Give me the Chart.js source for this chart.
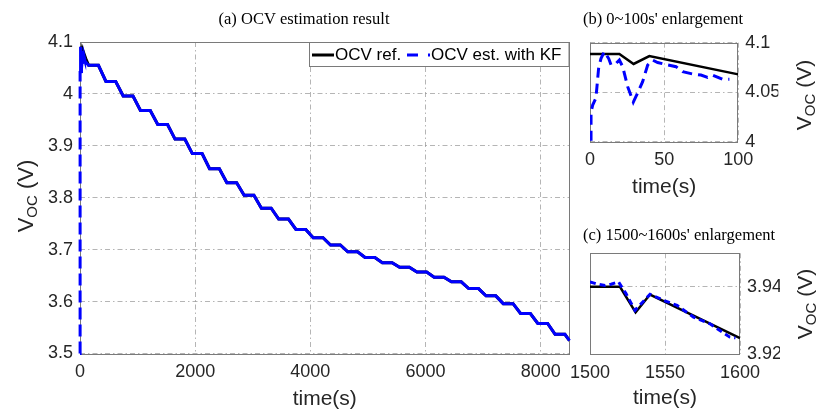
<!DOCTYPE html>
<html>
<head>
<meta charset="utf-8">
<script src="https://cdn.jsdelivr.net/npm/chart.js@4.4.1/dist/chart.umd.min.js"></script>
<style>
  body { margin: 0; background: #fff; }
  #wrap { position: relative; width: 818px; height: 412px; }
  canvas { position: absolute; left: 0; top: 0; }
</style>
</head>
<body>
<div id="wrap">
  <canvas id="main" width="818" height="412"></canvas>
  <canvas id="zoomB" width="818" height="412"></canvas>
  <canvas id="zoomC" width="818" height="412"></canvas>
</div>
<script>
// (b) first 100 s
const refStartT = [0, 19.8, 29.4, 40, 100];
const refStartV = [4.0886, 4.0886, 4.0785, 4.0865, 4.068];
const kfStartT = [0, 0.7, 0.7, 1.8, 4, 5.8, 7.4, 9.7, 12.6, 14.2, 17.5, 19.8, 22, 25.4, 29.2, 32, 35.5, 38.9, 42.2, 45.6, 52.4, 58, 62.5, 69.2, 74.8, 79.3, 82.7, 89.4, 94];
const kfStartV = [3.5, 4.0, 4.03, 4.037, 4.044, 4.074, 4.084, 4.091, 4.084, 4.0775, 4.079, 4.0825, 4.076, 4.0556, 4.04, 4.0488, 4.0606, 4.0775, 4.0825, 4.08, 4.0775, 4.0758, 4.0707, 4.0684, 4.0673, 4.065, 4.0673, 4.063, 4.063];

// whole test: rest plateaus, each ends at a current pulse
const pulseTime = [320, 620, 920, 1220, 1520, 1820, 2120, 2420, 2720, 3020, 3320, 3620, 3920, 4220,
  4520, 4820, 5120, 5420, 5720, 6020, 6320, 6620, 6920, 7220, 7520, 7820, 8120, 8420];
const restVolt = [4.055, 4.024, 3.996, 3.968, 3.941, 3.913, 3.885, 3.856, 3.829, 3.805, 3.78, 3.759, 3.739, 3.723,
  3.709, 3.696, 3.685, 3.675, 3.666, 3.657, 3.647, 3.638, 3.625, 3.611, 3.596, 3.577, 3.558, 3.537];
const endT = 8500, endV = 3.525;

// (c) 1500~1600 s
const refMidT = [1500, 1520, 1530.4, 1540, 1600];
const refMidV = [3.94, 3.94, 3.9324, 3.9377, 3.9247];
const kfMidT = [1500, 1505, 1510, 1514, 1519, 1524, 1530, 1540, 1549, 1558, 1569, 1580, 1593, 1597];
const kfMidV = [3.9415, 3.9408, 3.9404, 3.9408, 3.9415, 3.938, 3.933, 3.9378, 3.936, 3.9345, 3.931, 3.929, 3.9251, 3.9248];

const mainTicksX = [0, 2000, 4000, 6000, 8000];

function pts(t, v) { return t.map((x, i) => ({ x: x, y: v[i] })); }

function stairs(head) {
  const out = head.slice();
  pulseTime.forEach((t, i) => {
    out.push({ x: t - 170, y: restVolt[i] });
    out.push({ x: t, y: restVolt[i] });
  });
  out.push({ x: endT, y: endV });
  return out;
}

const SANS = "'Liberation Sans', Arial, sans-serif";
const SERIF = "'Liberation Serif', 'Times New Roman', serif";
const TXT = '#262626';

function yTitle(ctx, cx, baseX, size) {
  const sub = Math.round(size * 0.7);
  ctx.save();
  ctx.translate(baseX, cx);
  ctx.rotate(-Math.PI / 2);
  ctx.fillStyle = TXT;
  ctx.textBaseline = 'alphabetic';
  ctx.font = size + 'px ' + SANS;
  const wV = ctx.measureText('V').width;
  const wP = ctx.measureText(' (V)').width;
  ctx.font = sub + 'px ' + SANS;
  const wS = ctx.measureText('OC').width;
  let x = -(wV + wS + wP) / 2;
  ctx.font = size + 'px ' + SANS;
  ctx.fillText('V', x, 0); x += wV;
  ctx.font = sub + 'px ' + SANS;
  ctx.fillText('OC', x, size * 0.18); x += wS;
  ctx.font = size + 'px ' + SANS;
  ctx.fillText(' (V)', x, 0);
  ctx.restore();
}

const decor = {
  id: 'decor',
  beforeDatasetsDraw(chart) {
    const a = chart.chartArea, ctx = chart.ctx;
    ctx.save();
    ctx.strokeStyle = '#7a7a7a';
    ctx.lineWidth = 1;
    ctx.strokeRect(Math.round(a.left) + 0.5, Math.round(a.top) + 0.5,
      Math.round(a.right - a.left) - 1, Math.round(a.bottom - a.top));
    ctx.restore();
  },
  afterDraw(chart, args, o) {
    const ctx = chart.ctx, a = chart.chartArea;
    ctx.save();
    ctx.fillStyle = '#000';
    ctx.font = '16.5px ' + SERIF;
    ctx.textBaseline = 'alphabetic';
    ctx.textAlign = o.titleAlign;
    ctx.fillText(o.title, o.titleX, o.titleY);
    ctx.fillStyle = TXT;
    ctx.font = '21px ' + SANS;
    ctx.textAlign = 'center';
    ctx.textBaseline = 'alphabetic';
    ctx.fillText('time(s)', (a.left + a.right) / 2, o.xTitleY);
    ctx.restore();
    yTitle(ctx, o.yTitleY, o.yTitleX, o.yTitleSize);
    if (o.legend) {
      ctx.save();
      ctx.fillStyle = '#fff';
      ctx.fillRect(309.5, 42.5, 259.5, 24);
      ctx.strokeStyle = '#7a7a7a';
      ctx.lineWidth = 1;
      ctx.strokeRect(309.5, 42.5, 259.5, 24);
      ctx.lineWidth = 3;
      ctx.strokeStyle = '#000';
      ctx.beginPath(); ctx.moveTo(312, 55); ctx.lineTo(334, 55); ctx.stroke();
      ctx.strokeStyle = '#0000ff';
      ctx.setLineDash([11, 10]);
      ctx.beginPath(); ctx.moveTo(407, 55); ctx.lineTo(430, 55); ctx.stroke();
      ctx.setLineDash([]);
      ctx.fillStyle = '#000';
      ctx.font = '17px ' + SANS;
      ctx.textBaseline = 'middle';
      ctx.textAlign = 'left';
      ctx.fillText('OCV ref.', 335, 55.5);
      ctx.fillText('OCV est. with KF', 431, 55.5);
      ctx.restore();
    }
  }
};

function fmt(v) { return String(+v.toFixed(3)); }

function axes(o) {
  const gridDash = [5, 3, 1.5, 3];
  return {
    x: {
      type: 'linear', min: o.xMin, max: o.xMax,
      afterBuildTicks: s => { s.ticks = o.xTicks.map(v => ({ value: v })); },
      afterFit: s => { s.height = o.xH; },
      grid: { color: 'rgba(90,90,90,0.45)', lineWidth: 1, drawTicks: false },
      border: { display: false, dash: gridDash },
      ticks: { color: TXT, font: { family: SANS, size: 18 }, padding: 8, maxRotation: 0, callback: fmt }
    },
    y: {
      type: 'linear', min: o.yMin, max: o.yMax, position: o.yPos,
      afterBuildTicks: s => { s.ticks = o.yTicks.map(v => ({ value: v })); },
      afterFit: s => { s.width = o.yW; },
      grid: { color: 'rgba(90,90,90,0.45)', lineWidth: 1, drawTicks: false },
      border: { display: false, dash: gridDash },
      ticks: { color: TXT, font: { family: SANS, size: 18 }, padding: 7, callback: fmt }
    }
  };
}

function make(id, ref, kf, o) {
  return new Chart(document.getElementById(id), {
    type: 'line',
    data: {
      datasets: [
        { label: 'OCV ref.', data: ref, borderColor: '#000', borderWidth: o.refW, pointRadius: 0, order: 2 },
        { label: 'OCV est. with KF', data: kf, borderColor: '#0000ff', borderWidth: 3, pointRadius: 0, order: 1,
          borderDash: o.kfDash, clip: o.kfClip,
          segment: o.segment || {} }
      ]
    },
    options: {
      responsive: false,
      animation: false,
      layout: { padding: o.pad },
      scales: axes(o),
      plugins: {
        legend: { display: false },
        tooltip: { enabled: false },
        decor: o.decor
      }
    },
    plugins: [decor]
  });
}

make('main', stairs(pts(refStartT, refStartV)), stairs(pts(kfStartT, kfStartV)), {
  xMin: 0, xMax: 8500, xTicks: mainTicksX, xH: 58.5,
  yMin: 3.5, yMax: 4.1, yTicks: [3.5, 3.6, 3.7, 3.8, 3.9, 4.0, 4.1], yW: 80, yPos: 'left',
  pad: { left: 0, top: 42, right: 248.5, bottom: 0 },
  refW: 3, kfDash: [], kfClip: false,
  segment: { borderDash: c => (c.p0.parsed.x < 2 ? [12, 5] : undefined) },
  decor: { title: '(a) OCV estimation result', titleAlign: 'center', titleX: 304, titleY: 24,
    xTitleY: 405, yTitleX: 33, yTitleY: 196, yTitleSize: 22, legend: true }
});

make('zoomB', pts(refStartT, refStartV), pts(kfStartT, kfStartV), {
  xMin: 0, xMax: 100, xTicks: [0, 50, 100], xH: 30,
  yMin: 4.0, yMax: 4.1, yTicks: [4.0, 4.05, 4.1], yW: 40, yPos: 'right',
  pad: { left: 590, top: 42.7, right: 39.7, bottom: 240.3 },
  refW: 2.5, kfDash: [10, 6], kfClip: undefined,
  decor: { title: "(b) 0~100s' enlargement", titleAlign: 'left', titleX: 583, titleY: 24,
    xTitleY: 193, yTitleX: 811, yTitleY: 95, yTitleSize: 21, legend: false }
});

make('zoomC', pts(refMidT, refMidV), pts(kfMidT, kfMidV), {
  xMin: 1500, xMax: 1600, xTicks: [1500, 1550, 1600], xH: 30,
  yMin: 3.92, yMax: 3.95, yTicks: [3.92, 3.94], yW: 40, yPos: 'right',
  pad: { left: 590, top: 253.3, right: 38, bottom: 28 },
  refW: 2.5, kfDash: [6, 4], kfClip: undefined,
  decor: { title: "(c) 1500~1600s' enlargement", titleAlign: 'left', titleX: 583, titleY: 240,
    xTitleY: 404, yTitleX: 812, yTitleY: 304, yTitleSize: 21, legend: false }
});
</script>
</body>
</html>
